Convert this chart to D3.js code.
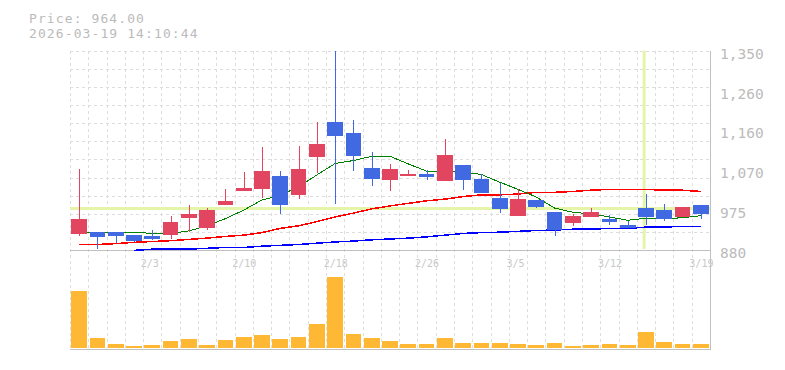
<!DOCTYPE html>
<html>
<head>
<meta charset="utf-8">
<script src="https://cdn.jsdelivr.net/npm/d3@7"></script>
<style>
  body { margin: 0; background: #fff; }
  svg { display: block; }
</style>
</head>
<body>
<div id="chart"></div>
<script>
// daily candles, 1/28 .. 3/19
const dates = ['1/28', '1/29', '1/30', '2/2', '2/3', '2/4', '2/5', '2/6', '2/9', '2/10',
    '2/12', '2/13', '2/16', '2/17', '2/18', '2/19', '2/20', '2/24', '2/25', '2/26',
    '2/27', '3/2', '3/3', '3/4', '3/5', '3/6', '3/9', '3/10', '3/11', '3/12',
    '3/13', '3/16', '3/17', '3/18', '3/19'];
const opens = [918, 922, 922, 915, 913, 915, 956, 933, 987, 1020,
    1025, 1055, 1010, 1099, 1182, 1156, 1073, 1046, 1055, 1059,
    1043, 1080, 1047, 1003, 961, 998, 970, 944, 958, 953,
    939, 980, 974, 958, 987];
const highs = [1071, 922, 922, 915, 927, 960, 987, 978, 1024, 1064,
    1123, 1066, 1125, 1182, 1350, 1187, 1111, 1083, 1069, 1069,
    1142, 1080, 1059, 1039, 1024, 998, 970, 966, 980, 963,
    948, 1012, 989, 981, 987];
const lows = [914, 882, 896, 898, 904, 906, 923, 927, 986, 1019,
    1002, 966, 1001, 1062, 989, 1067, 1032, 1020, 1055, 1046,
    1042, 1022, 1014, 968, 960, 980, 913, 937, 958, 939,
    932, 939, 948, 958, 954];
const closes = [953, 911, 914, 902, 906, 946, 966, 974, 996, 1026,
    1066, 987, 1071, 1130, 1150, 1102, 1048, 1071, 1059, 1052,
    1104, 1046, 1014, 977, 1000, 982, 927, 960, 970, 947,
    932, 958, 954, 981, 964];
// volume, thousand shares
const volumes = [57, 10, 4, 2, 3, 7, 9, 3, 8, 11,
    13, 9, 11, 24, 71, 14, 10, 7, 4, 4,
    10, 5, 5, 5, 4, 3, 5, 2, 3, 4,
    3, 16, 6, 4, 4];

// moving averages (green short, red mid, blue long)
const maShort = [922, 922, 922, 922, 919, 919, 925, 937, 954, 974,
    998, 1009, 1029, 1057, 1084, 1091, 1101, 1101, 1083, 1066,
    1065, 1064, 1058, 1040, 1023, 1005, 979, 969, 965, 958,
    950, 955, 954, 956, 961];
const maMid = [893, 893, 895, 898, 900, 902, 905, 908, 912, 915,
    921, 931, 937, 947, 958, 967, 977, 984, 990, 996,
    1000, 1006, 1010, 1010, 1012, 1016, 1016, 1018, 1021, 1023,
    1023, 1023, 1021, 1021, 1018];
const maLong = [null, null, null, 879, 882, 882, 882, 884, 886, 886,
    889, 891, 893, 896, 899, 901, 904, 906, 908, 911,
    915, 919, 921, 922, 924, 926, 927, 929, 929, 931,
    931, 934, 934, 936, 936];

// axis ticks
const priceTicks = [880, 974, 1068, 1162, 1256, 1350];
const priceTickLabels = ['880', '975', '1,070', '1,160', '1,260', '1,350'];
const dateTicks = ['2/3', '2/10', '2/18', '2/26', '3/5', '3/12', '3/19'];

// mouse crosshair (fractional candle index, price)
const crossIndex = 30.9;
const crossPrice = 978;
const stamp = '2026-03-19 14:10:44';

const W = 785, H = 370;
const left = 70, right = 710;
const priceTop = 50.7, priceBottom = 250;
const volBottom = 348, axisVol = 349.5;

const svg = d3.select('#chart').append('svg')
    .attr('width', W)
    .attr('height', H);

const x = d3.scaleBand()
    .domain(dates)
    .range([left, right])
    .paddingInner(0.14)
    .paddingOuter(0.07);
const xi = d3.scaleLinear().domain([-0.5, dates.length - 0.5]).range([left, right]);
const cx = d => x(d) + x.bandwidth() / 2;

const y = d3.scaleLinear().domain([880, 1350]).range([priceBottom, priceTop]);
const yv = d3.scaleLinear().domain([0, 80]).range([volBottom, volBottom - 80]);

const mono = '"DejaVu Sans Mono", "Liberation Mono", monospace';

// grid: vertical at slot boundaries, horizontal in price panel
const grid = svg.append('g')
    .attr('stroke', '#ddd')
    .attr('stroke-dasharray', '3,3')
    .attr('shape-rendering', 'crispEdges');
grid.selectAll('.vg')
    .data(d3.range(dates.length))
    .enter().append('line')
    .attr('x1', i => Math.round(xi(i - 0.5)) + 0.5)
    .attr('x2', i => Math.round(xi(i - 0.5)) + 0.5)
    .attr('y1', priceTop)
    .attr('y2', axisVol);
const hLines = d3.range(11).map(k => 880 + (k + 1) * (1350 - 880) / 11);
grid.selectAll('.hg')
    .data(hLines)
    .enter().append('line')
    .attr('x1', left)
    .attr('x2', right)
    .attr('y1', d => Math.round(y(d)) + 0.5)
    .attr('y2', d => Math.round(y(d)) + 0.5);

// crosshair
svg.append('line')
    .attr('x1', left).attr('x2', right)
    .attr('y1', y(crossPrice)).attr('y2', y(crossPrice))
    .attr('stroke', '#e4f5a9')
    .attr('stroke-width', 3);
svg.append('line')
    .attr('x1', xi(crossIndex)).attr('x2', xi(crossIndex))
    .attr('y1', priceTop).attr('y2', priceBottom - 1)
    .attr('stroke', '#e4f5a9')
    .attr('stroke-width', 3);

// axis lines
const axis = svg.append('g').attr('stroke', '#c0c0c0').attr('stroke-width', 1.5)
    .attr('shape-rendering', 'crispEdges');
axis.append('line').attr('x1', left).attr('x2', right + 1).attr('y1', priceBottom + 0.5).attr('y2', priceBottom + 0.5);
axis.append('line').attr('x1', left).attr('x2', right + 1).attr('y1', axisVol).attr('y2', axisVol);
axis.append('line').attr('x1', right + 0.5).attr('x2', right + 0.5).attr('y1', priceTop).attr('y2', axisVol);

// moving averages
const maLine = values => d3.line()
    .defined(d => d != null)
    .x((d, i) => cx(dates[i]))
    .y(d => y(d))(values);
[[maLong, '#0000ff', 1.5], [maMid, '#ff0000', 1.5], [maShort, '#008000', 1]].forEach(([vals, col, w]) => {
    svg.append('path')
        .attr('d', maLine(vals))
        .attr('fill', 'none')
        .attr('stroke', col)
        .attr('stroke-width', w)
        .attr('shape-rendering', 'crispEdges');
});

// candles
const upCol = '#e2455f', downCol = '#4169e1';
const candles = svg.append('g').attr('shape-rendering', 'crispEdges')
    .selectAll('g')
    .data(dates)
    .enter().append('g');
candles.append('line')
    .attr('x1', (d, i) => Math.round(cx(d)) + 0.5)
    .attr('x2', (d, i) => Math.round(cx(d)) + 0.5)
    .attr('y1', (d, i) => y(highs[i]))
    .attr('y2', (d, i) => y(lows[i]))
    .attr('stroke', (d, i) => closes[i] >= opens[i] ? upCol : downCol)
    .attr('stroke-width', 1);
candles.append('rect')
    .attr('x', d => x(d))
    .attr('width', x.bandwidth())
    .attr('y', (d, i) => y(Math.max(opens[i], closes[i])))
    .attr('height', (d, i) => Math.max(1, Math.abs(y(opens[i]) - y(closes[i]))))
    .attr('fill', (d, i) => closes[i] >= opens[i] ? upCol : downCol);

// volume bars
svg.append('g').attr('shape-rendering', 'crispEdges')
    .selectAll('rect')
    .data(volumes)
    .enter().append('rect')
    .attr('x', (d, i) => x(dates[i]))
    .attr('width', x.bandwidth())
    .attr('y', d => yv(d))
    .attr('height', d => volBottom - yv(d))
    .attr('fill', '#ffb833');

// price labels on the right
svg.append('g')
    .selectAll('text')
    .data(priceTicks)
    .enter().append('text')
    .attr('x', 720)
    .attr('y', d => y(d) + 8)
    .attr('font-family', mono)
    .attr('font-size', 14.5)
    .attr('fill', '#bbb')
    .text((d, i) => priceTickLabels[i]);

// date labels
svg.append('g')
    .selectAll('text')
    .data(dateTicks)
    .enter().append('text')
    .attr('x', d => cx(d) - 11.5)
    .attr('y', 267)
    .attr('font-family', mono)
    .attr('font-size', 10)
    .attr('fill', '#c8c8c8')
    .text(d => d);

// header (smaller font + spacing so the two lines don't collide)
svg.append('text')
    .attr('x', 29).attr('y', 23)
    .attr('font-family', mono).attr('font-size', 13).attr('letter-spacing', 1.1).attr('fill', '#bbb')
    .text('Price: ' + closes[closes.length - 1].toFixed(2));
svg.append('text')
    .attr('x', 29).attr('y', 38)
    .attr('font-family', mono).attr('font-size', 13).attr('letter-spacing', 1.1).attr('fill', '#bbb')
    .text(stamp);
</script>
</body>
</html>
